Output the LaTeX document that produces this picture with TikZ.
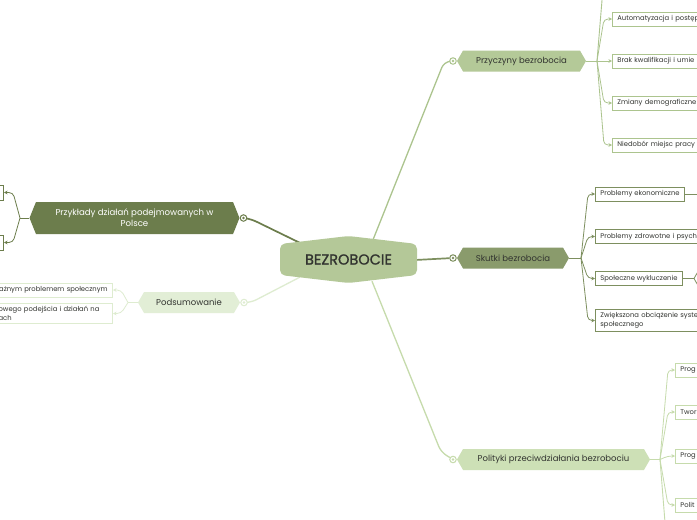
\documentclass[tikz,border=0pt]{standalone}
\usepackage{fontspec}
\setmainfont{Poppins}
\newfontfamily\centfont[FakeBold=1.2]{Poppins}
\usetikzlibrary{shapes.symbols,arrows.meta,calc}
\pgfdeclarelayer{bg}
\pgfsetlayers{bg,main}

\definecolor{txt}{RGB}{50,52,48}
\definecolor{cfill}{RGB}{180,200,152}
\definecolor{f1}{RGB}{180,201,152}
\definecolor{f2}{RGB}{138,155,108}
\definecolor{f3}{RGB}{205,224,182}
\definecolor{f4}{RGB}{108,125,76}
\definecolor{f5}{RGB}{226,238,214}
\definecolor{l1}{RGB}{172,196,142}
\definecolor{l2}{RGB}{125,143,95}
\definecolor{l3}{RGB}{198,219,172}
\definecolor{l4}{RGB}{108,125,76}
\definecolor{l5}{RGB}{222,236,208}

\begin{document}
\begin{tikzpicture}[x=1pt,y=-1pt,
  branch/.style={shape=signal, signal to=west and east, signal pointer angle=120,
    minimum height=21, inner sep=0pt, font=\fontsize{8.5}{10}\selectfont, text=txt},
  leaf/.style={draw, fill=white, line width=0.8pt, minimum height=14, inner xsep=5,
    inner ysep=3, font=\fontsize{6.8}{8.6}\selectfont, text=txt, anchor=west},
  link/.style={line width=1.3pt, rounded corners=6},
  trunk/.style={line width=0.9pt},
  arr/.style={-{Stealth[length=3.5pt,width=3.5pt]}, line width=0.8pt, rounded corners=4},
  dotc/.style={circle, draw=#1, fill=white, minimum size=6.5, inner sep=0, line width=1pt,
    path picture={\fill[#1] (path picture bounding box.center) circle (1.3);}}
]
\useasboundingbox (0,0) rectangle (697,520);

% central node
\fill[cfill, rounded corners=5] (280,244) -- (348.5,236) -- (417,244) -- (417,275) -- (348.5,283) -- (280,275) -- cycle;
\node[font=\centfont\fontsize{14.5}{16}\selectfont, text=txt, minimum width=137, minimum height=47, inner sep=0] (c) at (348.5,259.5) {BEZROBOCIE};

% branches
\node[branch, fill=f1, minimum width=129] (p1) at (521.5,61) {Przyczyny bezrobocia};
\node[branch, fill=f2, minimum width=112] (p2) at (513,258) {Skutki bezrobocia};
\node[branch, fill=f3, minimum width=193] (p3) at (553.5,459.5) {Polityki przeciwdziałania bezrobociu};
\node[branch, fill=f4, minimum width=210, minimum height=32, signal pointer angle=136, text=white, align=center, font=\fontsize{8.6}{11}\selectfont] (p4) at (134.5,218) {Przykłady działań podejmowanych w\\Polsce};
\node[branch, fill=f5, minimum width=102] (p5) at (189,302.5) {Podsumowanie};

% connector dots
\node[dotc=l1] (d1) at (453,61) {};
\node[dotc=l2] (d2) at (453,258) {};
\node[dotc=l3] (d3) at (453,459.5) {};
\node[dotc=l4] (d4) at (243.5,218) {};
\node[dotc=l5] (d5) at (244,302.5) {};

% forks
\coordinate (k1) at (597,61);
\coordinate (k2) at (581,258);
\coordinate (k3) at (660,459.5);
\coordinate (k4) at (20,218);
\coordinate (k5) at (128,302.5);
\coordinate (o1) at (604.5,-30);
\coordinate (o2) at (720,194);
\coordinate (o3) at (668,560);

% leaves of Przyczyny
\node[leaf, draw=l1, text width=110] (a1) at (612,19) {Automatyzacja i postęp};
\node[leaf, draw=l1, text width=110] (a2) at (612,61) {Brak kwalifikacji i umie};
\node[leaf, draw=l1, text width=110] (a3) at (612,103) {Zmiany demograficzne};
\node[leaf, draw=l1, text width=110] (a4) at (612,145) {Niedobór miejsc pracy};

% leaves of Skutki
\node[leaf, draw=l2] (b1) at (595,194) {Problemy ekonomiczne};
\node[leaf, draw=l2, text width=130] (b2) at (595,236.5) {Problemy zdrowotne i psych};
\node[leaf, draw=l2] (b3) at (595,278.5) {Społeczne wykluczenie};
\node[leaf, draw=l2, text width=130] (b4) at (595,320.5) {Zwiększona obciążenie syste\\społecznego};
\node[branch, draw=l2, line width=0.8pt, fill=white, minimum width=60, minimum height=21] (b5) at (724,278.5) {};

% leaves of Polityki
\node[leaf, draw=l3, text width=60] (g1) at (675,370) {Prog};
\node[leaf, draw=l3, text width=60] (g2) at (675,412) {Twor};
\node[leaf, draw=l3, text width=60] (g3) at (675,456) {Prog};
\node[leaf, draw=l3, text width=60] (g4) at (675,505) {Polit};

% leaves of Przykłady
\node[leaf, draw=l4, anchor=east, minimum width=40, minimum height=15] (e1) at (4,192.5) {};
\node[leaf, draw=l4, anchor=east, minimum width=40, minimum height=15] (e2) at (4,242.5) {};

% leaves of Podsumowanie
\node[leaf, draw=l5, anchor=east, text width=130, align=right] (h1) at (113,290) {ażnym problemem społecznym};
\node[leaf, draw=l5, anchor=east, text width=109, align=left] (h2) at (113,313.5) {owego podejścia i działań na\\ach};

\begin{pgfonlayer}{bg}
\fill[white] (0,0) rectangle (697,520);
\clip (0,0) rectangle (697,520);
% central connectors
\draw[link,l1] ($(c.north)+(24.5,4)$) -- (444,62) -- (d1);
\draw[link,l2,line width=1.7pt] ($(c.east)+(-2,0.5)$) -- (d2);
\draw[link,l3] ($(c.south)+(23.5,-2)$) -- (441,452) -- (d3);
\draw[link,l4,line width=1.7pt] ($(c.north west)+(20,7)$) -- (251,219) -- (d4);
\draw[link,l5] ($(c.south west)+(20,-6)$) -- (251,302.5) -- (d5);
% trunks
\draw[trunk,l1] (p1.east) -- (k1);
\draw[trunk,l2] (p2.east) -- (k2);
\draw[trunk,l3] (p3.east) -- (k3);
\draw[trunk,l4] (p4.west) -- (k4);
\draw[trunk,l5] (p5.west) -- (k5);
% Przyczyny
\draw[trunk,l1] (k1) -- (o1);
\draw[arr,l1] (k1) -- (604,19) -- (a1.west);
\draw[arr,l1] (k1) -- (a2.west);
\draw[arr,l1] (k1) -- (604,103) -- (a3.west);
\draw[arr,l1] (k1) -- (604,145) -- (a4.west);
% Skutki
\draw[arr,l2] (k2) -- (588,194) -- (b1.west);
\draw[arr,l2] (k2) -- (588,236.5) -- (b2.west);
\draw[arr,l2] (k2) -- (588,278.5) -- (b3.west);
\draw[arr,l2] (k2) -- (588,320.5) -- (b4.west);
\draw[trunk,l2] (b1.east) -- (o2);
\draw[trunk,l2] (b3.east) -- (b5);
% Polityki
\draw[arr,l3] (k3) -- (668,370) -- (g1.west);
\draw[arr,l3] (k3) -- (668,412) -- (g2.west);
\draw[arr,l3] (k3) -- (668,456) -- (g3.west);
\draw[arr,l3] (k3) -- (668,505) -- (g4.west);
\draw[trunk,l3] (k3) -- (o3);
% Przykłady
\draw[arr,l4] (k4) -- (13,192.5) -- (e1.east);
\draw[arr,l4] (k4) -- (13,242.5) -- (e2.east);
% Podsumowanie
\draw[arr,l5] (k5) -- (121,290) -- (h1.east);
\draw[arr,l5] (k5) -- (121,313.5) -- (h2.east);
\end{pgfonlayer}
\end{tikzpicture}
\end{document}
